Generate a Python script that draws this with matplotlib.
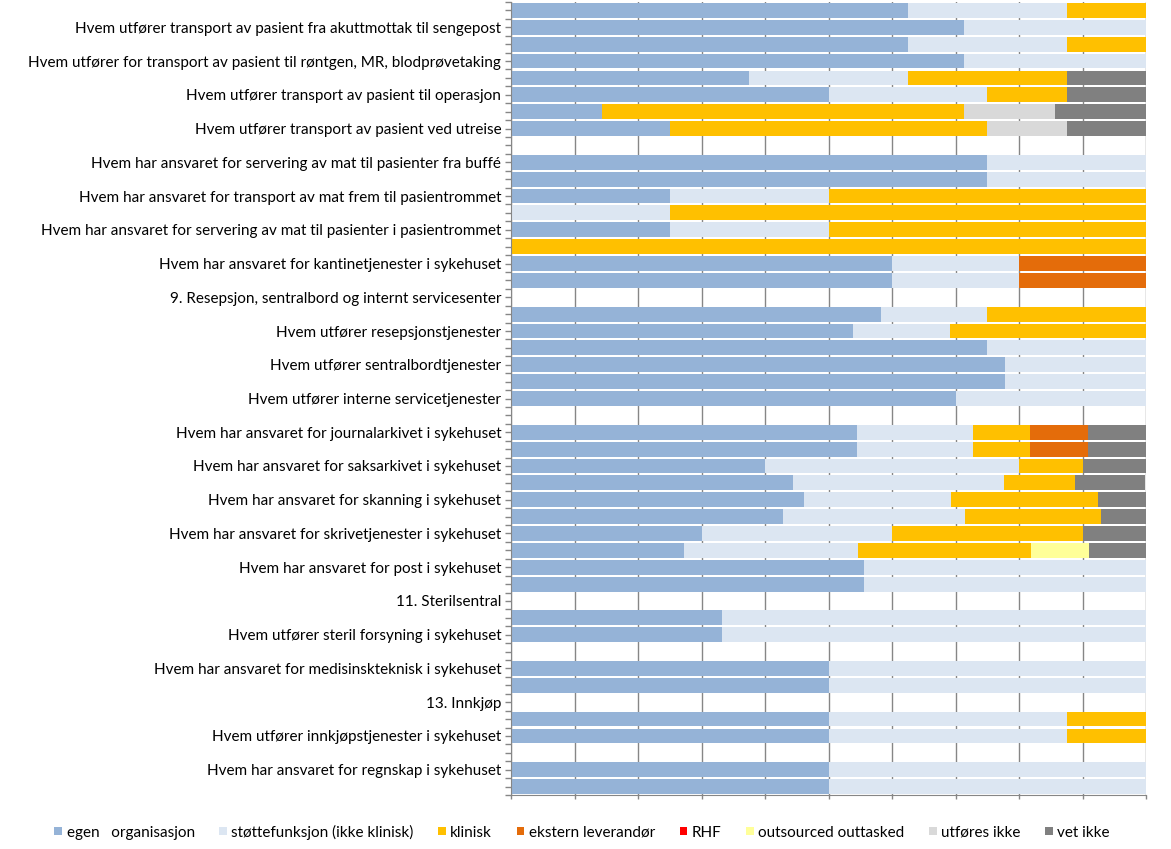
import matplotlib.pyplot as plt
from matplotlib.patches import Patch
import numpy as np

plt.rcParams['font.family'] = ['Lato', 'DejaVu Sans']

# labels shown on the y axis (only every other row is labelled)
labels = ["", "Hvem utfører transport av pasient fra akuttmottak til sengepost",
          "", "Hvem utfører for transport av pasient til røntgen, MR, blodprøvetaking",
          "", "Hvem utfører transport av pasient til operasjon",
          "", "Hvem utfører transport av pasient ved utreise",
          "", "Hvem har ansvaret for servering av mat til pasienter fra buffé",
          "", "Hvem har ansvaret for transport av mat frem til pasientrommet",
          "", "Hvem har ansvaret for servering av mat til pasienter i pasientrommet",
          "", "Hvem har ansvaret for kantinetjenester i sykehuset",
          "", "9. Resepsjon, sentralbord og internt servicesenter",
          "", "Hvem utfører resepsjonstjenester",
          "", "Hvem utfører sentralbordtjenester",
          "", "Hvem utfører interne servicetjenester",
          "", "Hvem har ansvaret for journalarkivet i sykehuset",
          "", "Hvem har ansvaret for saksarkivet i sykehuset",
          "", "Hvem har ansvaret for skanning i sykehuset",
          "", "Hvem har ansvaret for skrivetjenester i sykehuset",
          "", "Hvem har ansvaret for post i sykehuset",
          "", "11. Sterilsentral",
          "", "Hvem utfører steril forsyning i sykehuset",
          "", "Hvem har ansvaret for medisinskteknisk i sykehuset",
          "", "13. Innkjøp",
          "", "Hvem utfører innkjøpstjenester i sykehuset",
          "", "Hvem har ansvaret for regnskap i sykehuset",
          ""]

# percentages, one value per row from top to bottom
egen = [62.5, 71.4, 62.5, 71.4, 37.5, 50, 14.3, 25, 0,
        75, 75, 25, 0, 25, 0, 60, 60, 0,
        58.3, 53.8, 75, 77.8, 77.8, 70, 0,
        54.5, 54.5, 40, 44.4, 46.2, 42.9, 30, 27.3, 55.6, 55.6, 0,
        33.3, 33.3, 0, 50, 50, 0, 50, 50, 0, 50, 50]
stotte = [25, 28.6, 25, 28.6, 25, 25, 0, 0, 0,
          25, 25, 25, 25, 25, 0, 20, 20, 0,
          16.7, 15.4, 25, 22.2, 22.2, 30, 0,
          18.2, 18.2, 40, 33.3, 23.1, 28.6, 30, 27.3, 44.4, 44.4, 0,
          66.7, 66.7, 0, 50, 50, 0, 37.5, 37.5, 0, 50, 50]
klinisk = [12.5, 0, 12.5, 0, 25, 12.5, 57.1, 50, 0,
           0, 0, 50, 75, 50, 100, 0, 0, 0,
           25, 30.8, 0, 0, 0, 0, 0,
           9.1, 9.1, 10, 11.1, 23.1, 21.4, 30, 27.3, 0, 0, 0,
           0, 0, 0, 0, 0, 0, 12.5, 12.5, 0, 0, 0]
ekstern = [0, 0, 0, 0, 0, 0, 0, 0, 0,
           0, 0, 0, 0, 0, 0, 20, 20, 0,
           0, 0, 0, 0, 0, 0, 0,
           9.1, 9.1, 0, 0, 0, 0, 0, 0, 0, 0, 0,
           0, 0, 0, 0, 0, 0, 0, 0, 0, 0, 0]
rhf = [0] * 47
outsourced = [0, 0, 0, 0, 0, 0, 0, 0, 0,
              0, 0, 0, 0, 0, 0, 0, 0, 0,
              0, 0, 0, 0, 0, 0, 0,
              0, 0, 0, 0, 0, 0, 0, 9.1, 0, 0, 0,
              0, 0, 0, 0, 0, 0, 0, 0, 0, 0, 0]
utfores_ikke = [0, 0, 0, 0, 0, 0, 14.3, 12.5, 0,
                0, 0, 0, 0, 0, 0, 0, 0, 0,
                0, 0, 0, 0, 0, 0, 0,
                0, 0, 0, 0, 0, 0, 0, 0, 0, 0, 0,
                0, 0, 0, 0, 0, 0, 0, 0, 0, 0, 0]
vet_ikke = [0, 0, 0, 0, 12.5, 12.5, 14.3, 12.5, 0,
            0, 0, 0, 0, 0, 0, 0, 0, 0,
            0, 0, 0, 0, 0, 0, 0,
            9.1, 9.1, 10, 11.1, 7.7, 7.1, 10, 9.1, 0, 0, 0,
            0, 0, 0, 0, 0, 0, 0, 0, 0, 0, 0]

series = [egen, stotte, klinisk, ekstern, rhf, outsourced, utfores_ikke, vet_ikke]
names = ["egen   organisasjon", "støttefunksjon (ikke klinisk)", "klinisk",
         "ekstern leverandør", "RHF", "outsourced outtasked", "utføres ikke", "vet ikke"]
colors = ["#95B3D7", "#DCE6F2", "#FFC000", "#E46C0A", "#FF0000", "#FFFF99", "#D9D9D9", "#808080"]

fig = plt.figure(figsize=(11.71, 8.49), dpi=100)
ax = fig.add_axes([511/1171, 1 - 795/849, 635/1171, 793/849])

y = np.arange(len(labels))
left = np.zeros(len(labels))
for vals, c in zip(series, colors):
    vals = np.array(vals, dtype=float)
    ax.barh(y, vals, left=left, height=0.88, color=c, linewidth=0, zorder=2)
    left = left + vals

ax.set_xlim(0, 100)
ax.set_ylim(len(labels) - 0.5, -0.5)
ax.set_xticks(np.arange(0, 101, 10))
ax.set_xticklabels([])
ax.grid(axis='x', color='#868686', linewidth=1, zorder=0)
ax.set_axisbelow(True)

ax.set_yticks(y)
ax.set_yticklabels(labels, fontsize=11)
ax.set_yticks(np.arange(len(labels) + 1) - 0.5, minor=True)
ax.tick_params(axis='y', which='both', length=4, color='#868686', width=1, pad=3)
ax.tick_params(axis='x', length=3, color='#868686', width=1)

for s in ['top', 'right']:
    ax.spines[s].set_visible(False)
ax.spines['left'].set_color('#868686')
ax.spines['bottom'].set_color('#868686')

handles = [Patch(facecolor=c, edgecolor='none') for c in colors]
fig.legend(handles, names, loc='center', bbox_to_anchor=(0.497, 1 - 832/849), ncol=8,
           frameon=False, fontsize=11, handlelength=0.5, handleheight=0.5,
           handletextpad=0.3, columnspacing=1.6)

plt.savefig("out.png", dpi=100)
